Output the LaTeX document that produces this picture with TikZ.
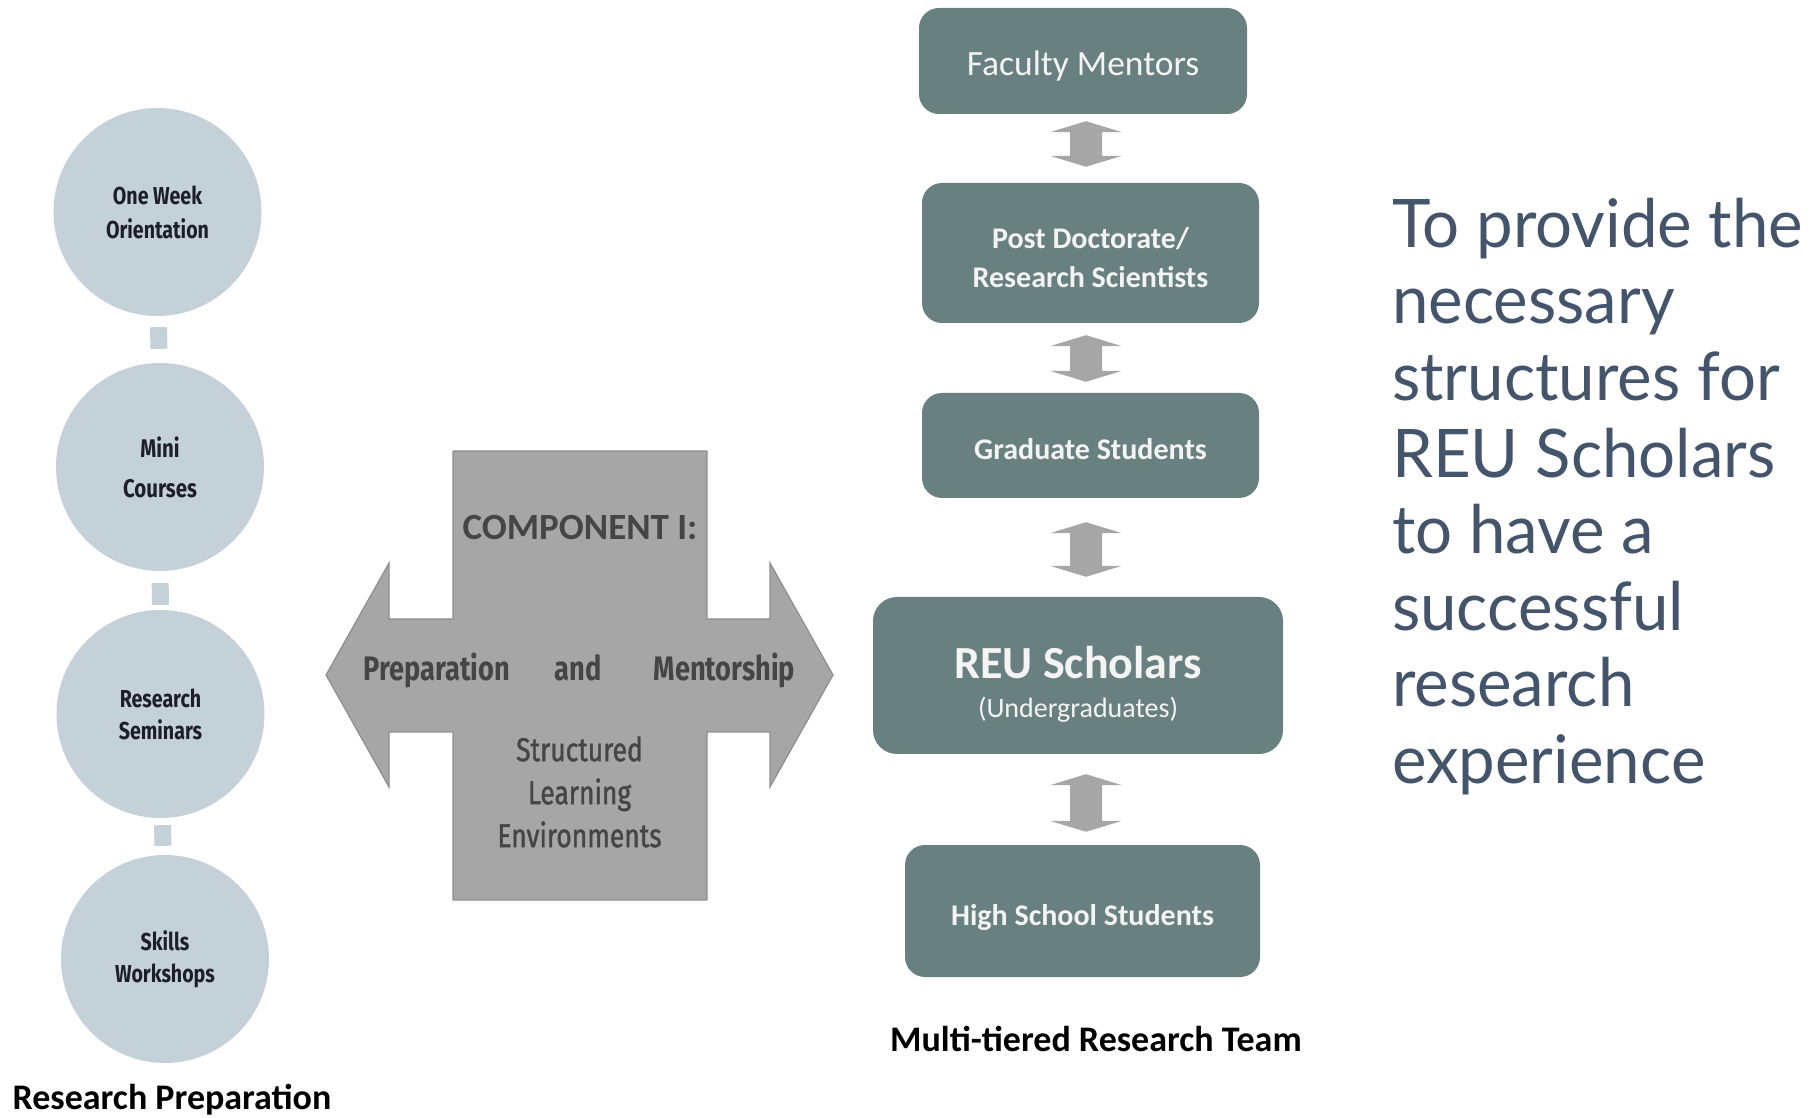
\documentclass[tikz,border=0pt]{standalone}
\usepackage{fontspec}
\usetikzlibrary{calc}
\newfontfamily\agency[FakeStretch=0.8]{Fira Sans}
\newfontfamily\agencymed[FakeStretch=0.8,FakeBold=1.2]{Fira Sans}
\newfontfamily\calibri{Carlito}
\newfontfamily\latofont[FakeStretch=0.975]{Lato}
\definecolor{circfill}{HTML}{C5D1D9}
\definecolor{circtext}{HTML}{1E1E2A}
\definecolor{boxfill}{HTML}{688080}
\definecolor{boxtext}{HTML}{F4F4F4}
\definecolor{crossfill}{HTML}{A6A6A6}
\definecolor{crossline}{HTML}{8E8E8E}
\definecolor{crosstext}{HTML}{454545}
\definecolor{arrowgray}{HTML}{A6A6A6}
\definecolor{goaltext}{HTML}{44546A}
\newcommand\tierarrow[4]{%
  \fill[arrowgray] let \p1=(#1.south), \p2=(#2.north) in
    (1086pt,\y1-#3pt) -- (1122pt,\y1-#3pt-11pt) -- (1102pt,\y1-#3pt-11pt)
    -- (1102pt,\y2+#4pt+11pt) -- (1122pt,\y2+#4pt+11pt) -- (1086pt,\y2+#4pt)
    -- (1050pt,\y2+#4pt+11pt) -- (1070pt,\y2+#4pt+11pt)
    -- (1070pt,\y1-#3pt-11pt) -- (1050pt,\y1-#3pt-11pt) -- cycle;}
\begin{document}
\begin{tikzpicture}[x=1pt,y=1pt,
  circ/.style={circle, minimum size=208pt, inner sep=0pt, fill=circfill, text=circtext,
    align=center, font=\agency\bfseries\fontsize{24.5}{34}\selectfont},
  link/.style={draw=circfill, line width=17pt},
  tier/.style={rounded corners=20pt, fill=boxfill, text=boxtext, align=center, inner sep=0pt,
    font=\calibri\bfseries\fontsize{30}{39}\selectfont, text depth=0pt},
  caption/.style={font=\calibri\bfseries\fontsize{36}{40}\selectfont, text=black, anchor=base},
  crossbold/.style={font=\agency\bfseries\fontsize{34}{40}\selectfont, text=crosstext},
  crossreg/.style={font=\agencymed\fontsize{33}{43}\selectfont, text=crosstext, align=center}
]
\useasboundingbox (0,0) rectangle (1814,1117);

% ---- left column: research preparation
\node[circ] (c1) at (157.5,905) {One Week\\Orientation};
\node[circ, font=\agency\bfseries\fontsize{25.5}{40}\selectfont] (c2) at (160,650) {Mini\\Courses};
\node[circ, font=\agency\bfseries\fontsize{24.5}{32}\selectfont] (c3) at (160.5,403) {Research\\Seminars};
\node[circ, font=\agency\bfseries\fontsize{24.5}{32}\selectfont] (c4) at (165,158) {Skills\\Workshops};
\draw[link, shorten <=11pt, shorten >=14pt] (c1) -- (c2);
\draw[link, shorten <=12pt, shorten >=5pt] (c2) -- (c3);
\draw[link, shorten <=7pt, shorten >=9pt] (c3) -- (c4);
\node[caption] (rp) at (172,8) {Research Preparation};

% ---- central cross
\filldraw[fill=crossfill, draw=crossline, line width=1.2pt]
  (453,666) -- (707,666) -- (707,498) -- (770,498) -- (770,554) -- (833,442)
  -- (770,330) -- (770,385) -- (707,385) -- (707,217) -- (453,217) -- (453,385)
  -- (389,385) -- (389,330) -- (326,442) -- (389,554) -- (389,498) -- (453,498) -- cycle;
\node[font=\calibri\bfseries\fontsize{37}{40}\selectfont, text=crosstext] (comp) at (580,590) {COMPONENT I:};
\node[crossbold] (prep) at (437,447) {Preparation};
\node[crossbold] (and) at (578,449) {and};
\node[crossbold] (ment) at (724.5,447) {Mentorship};
\node[crossreg] (sle) at (579.5,325) {Structured\\Learning\\Environments};

% ---- right column: multi-tiered research team
\node[tier, minimum width=328pt, minimum height=106pt, font=\calibri\fontsize{35.5}{40}\selectfont,
  text height=30pt] (fac) at (1083,1056) {Faculty Mentors};
\node[tier, minimum width=337pt, minimum height=140pt, text height=69pt] (pd) at (1090.5,864)
  {Post Doctorate/\\Research Scientists};
\node[tier, minimum width=337pt, minimum height=105pt, text height=28pt] (grad) at (1090.5,671.5)
  {Graduate Students};
\node[tier, minimum width=410pt, minimum height=157pt, rounded corners=24pt, text height=84pt] (reu) at (1078,441.5)
  {{\fontsize{46}{50}\selectfont REU Scholars}\\[0pt]{\mdseries\fontsize{28}{30}\selectfont (Undergraduates)}};
\node[tier, minimum width=355pt, minimum height=132pt, text height=29pt] (hs) at (1082.5,206)
  {High School Students};
\tierarrow{fac}{pd}{7}{16}
\tierarrow{pd}{grad}{12}{11}
\tierarrow{grad}{reu}{24}{20}
\tierarrow{reu}{hs}{20}{13}
\node[caption] (mrt) at (1096,66) {Multi-tiered Research Team};

% ---- goal statement
\node[anchor=base west, align=left, inner sep=0pt, text=goaltext,
  font=\latofont\fontsize{67}{76.5}\selectfont] (goal) at (1392,334)
  {To provide the\\necessary\\structures for\\REU Scholars\\to have a\\successful\\research\\experience};
\end{tikzpicture}
\end{document}
